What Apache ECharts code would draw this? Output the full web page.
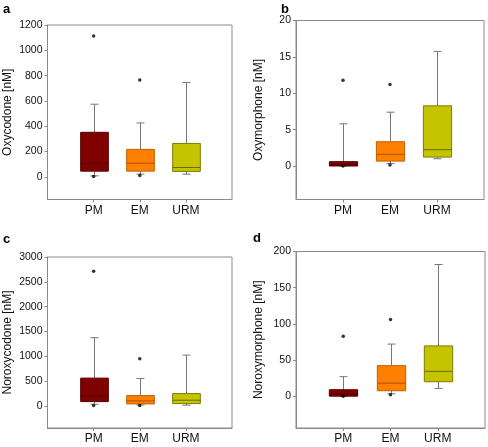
<!DOCTYPE html>
<html>
<head>
<meta charset="utf-8">
<script src="https://cdn.jsdelivr.net/npm/echarts@6/dist/echarts.min.js"></script>
<style>
html,body{margin:0;padding:0;background:#fff;}
#chart{width:488px;height:447px;}
</style>
</head>
<body>
<div id="chart"></div>
<script>
// ---- data ----
const categories = ['PM', 'EM', 'URM'];

// box stats per category: [lowerWhisker, Q1, median, Q3, upperWhisker]
const oxycodoneBox = [[8, 45, 108, 352, 574], [21, 45, 108, 217, 426], [21, 43, 74, 264, 745]];
const oxycodoneOutliers = [[0, 1113], [0, 2], [1, 766], [1, 10]];
const oxycodoneTicks = [0, 200, 400, 600, 800, 1000, 1200];

const oxymorphoneBox = [[0, 0, 0.2, 0.6, 5.8], [0.33, 0.68, 1.6, 3.34, 7.4], [1.0, 1.23, 2.25, 8.27, 15.75]];
const oxymorphoneOutliers = [[0, 11.8], [0, 0], [1, 11.2], [1, 0.15]];
const oxymorphoneTicks = [0, 5, 10, 15, 20];

const noroxycodoneBox = [[34, 87, 202, 560, 1374], [20, 40, 101, 208, 551], [15, 47, 115, 249, 1024]];
const noroxycodoneOutliers = [[0, 2713], [0, 10], [1, 949], [1, 10]];
const noroxycodoneTicks = [0, 500, 1000, 1500, 2000, 2500, 3000];

const noroxymorphoneBox = [[0, 0, 2.8, 8.9, 27], [3.3, 7.5, 18, 42.2, 72], [10.7, 20, 34.3, 69.5, 182]];
const noroxymorphoneOutliers = [[0, 83], [0, 0], [1, 106], [1, 2]];
const noroxymorphoneTicks = [0, 50, 100, 150, 200];

// ---- styles ----
const fills = ['#800000', '#ff8000', '#c4c400'];
const borders = ['#5a0000', '#c05f00', '#7d7d00'];
const medians = ['#4a0000', '#a85200', '#6a6a00'];
const whiskerColor = '#777777';
const axisColor = '#8a8a8a';
const font = 'Liberation Sans, Arial, Helvetica, sans-serif';

const panels = [
  { letter: 'a', name: 'Oxycodone [nM]', box: oxycodoneBox, out: oxycodoneOutliers, ticks: oxycodoneTicks,
    min: -179, max: 1200, grid: { left: 47.5, top: 25, right: 256, bottom: 247.5 }, nameGap: 34, lx: 3, ly: 3 },
  { letter: 'b', name: 'Oxymorphone [nM]', box: oxymorphoneBox, out: oxymorphoneOutliers, ticks: oxymorphoneTicks,
    min: -4.6, max: 20, grid: { left: 296, top: 20.5, right: 4, bottom: 247.5 }, nameGap: 31, lx: 281, ly: 3 },
  { letter: 'c', name: 'Noroxycodone [nM]', box: noroxycodoneBox, out: noroxycodoneOutliers, ticks: noroxycodoneTicks,
    min: -445, max: 3000, grid: { left: 47.5, top: 257, right: 256, bottom: 19 }, nameGap: 34, lx: 3, ly: 233 },
  { letter: 'd', name: 'Noroxymorphone [nM]', box: noroxymorphoneBox, out: noroxymorphoneOutliers, ticks: noroxymorphoneTicks,
    min: -44, max: 200, grid: { left: 296, top: 251.5, right: 3, bottom: 19 }, nameGap: 31, lx: 253, ly: 232 }
];

function renderBox(params, api) {
  const x = api.value(0);
  const ci = api.value(6);
  const lo = api.coord([x, api.value(1)]);
  const q1 = api.coord([x, api.value(2)]);
  const md = api.coord([x, api.value(3)]);
  const q3 = api.coord([x, api.value(4)]);
  const hi = api.coord([x, api.value(5)]);
  const unit = api.size([1, 0])[0];
  const hw = unit * 0.3;
  const cap = 4;
  const cx = Math.round(lo[0]) + 0.5;
  const wStyle = { stroke: whiskerColor, lineWidth: 1, fill: null };
  return {
    type: 'group',
    children: [
      { type: 'line', shape: { x1: cx, y1: hi[1], x2: cx, y2: q3[1] }, style: wStyle },
      { type: 'line', shape: { x1: cx, y1: q1[1], x2: cx, y2: lo[1] }, style: wStyle },
      { type: 'line', shape: { x1: cx - cap, y1: hi[1], x2: cx + cap, y2: hi[1] }, style: wStyle },
      { type: 'line', shape: { x1: cx - cap, y1: lo[1], x2: cx + cap, y2: lo[1] }, style: wStyle },
      { type: 'rect', shape: { x: cx - hw, y: q3[1], width: hw * 2, height: Math.max(q1[1] - q3[1], 1) },
        style: { fill: fills[ci], stroke: borders[ci], lineWidth: 1 } },
      { type: 'line', shape: { x1: cx - hw, y1: md[1], x2: cx + hw, y2: md[1] },
        style: { stroke: medians[ci], lineWidth: 1 } }
    ]
  };
}

const option = {
  animation: false,
  backgroundColor: '#ffffff',
  textStyle: { fontFamily: font },
  title: [], grid: [], xAxis: [], yAxis: [], series: []
};

panels.forEach((p, i) => {
  option.title.push({ text: p.letter, left: p.lx, top: p.ly, padding: 0,
    textStyle: { fontSize: 13, fontWeight: 'bold', color: '#000', fontFamily: font } });
  option.grid.push(Object.assign({ show: true, borderColor: axisColor, borderWidth: 1, containLabel: false }, p.grid));
  option.xAxis.push({
    type: 'value', gridIndex: i, min: 0, max: 4,
    axisLine: { show: true, onZero: false, lineStyle: { color: axisColor } },
    axisTick: { show: true, length: 3, inside: false, customValues: [1, 2, 3], lineStyle: { color: axisColor } },
    axisLabel: { customValues: [1, 2, 3], formatter: v => categories[Math.round(v) - 1] || '',
      fontSize: 12, color: '#111', margin: 5, fontFamily: font },
    splitLine: { show: false }
  });
  option.yAxis.push({
    type: 'value', gridIndex: i, min: p.min, max: p.max,
    name: p.name, nameLocation: 'middle', nameGap: p.nameGap,
    nameTextStyle: { fontSize: 12, color: '#111', fontFamily: font },
    axisLine: { show: true, onZero: false, lineStyle: { color: axisColor } },
    axisTick: { show: true, length: 3, inside: false, customValues: p.ticks, lineStyle: { color: axisColor } },
    axisLabel: { customValues: p.ticks, formatter: v => String(v), fontSize: 10.5, color: '#111', margin: 5, fontFamily: font },
    splitLine: { show: false }
  });
  option.series.push({
    type: 'custom', xAxisIndex: i, yAxisIndex: i, renderItem: renderBox,
    encode: { x: 0, y: [1, 2, 3, 4, 5] },
    data: p.box.map((b, k) => [k + 1].concat(b).concat([k]))
  });
  option.series.push({
    type: 'scatter', xAxisIndex: i, yAxisIndex: i, symbolSize: 3.5,
    itemStyle: { color: '#000' }, z: 5,
    data: p.out.map(o => [o[0] + 1, o[1]])
  });
});

const chart = echarts.init(document.getElementById('chart'), null, { renderer: 'canvas' });
chart.setOption(option);
</script>
</body>
</html>
